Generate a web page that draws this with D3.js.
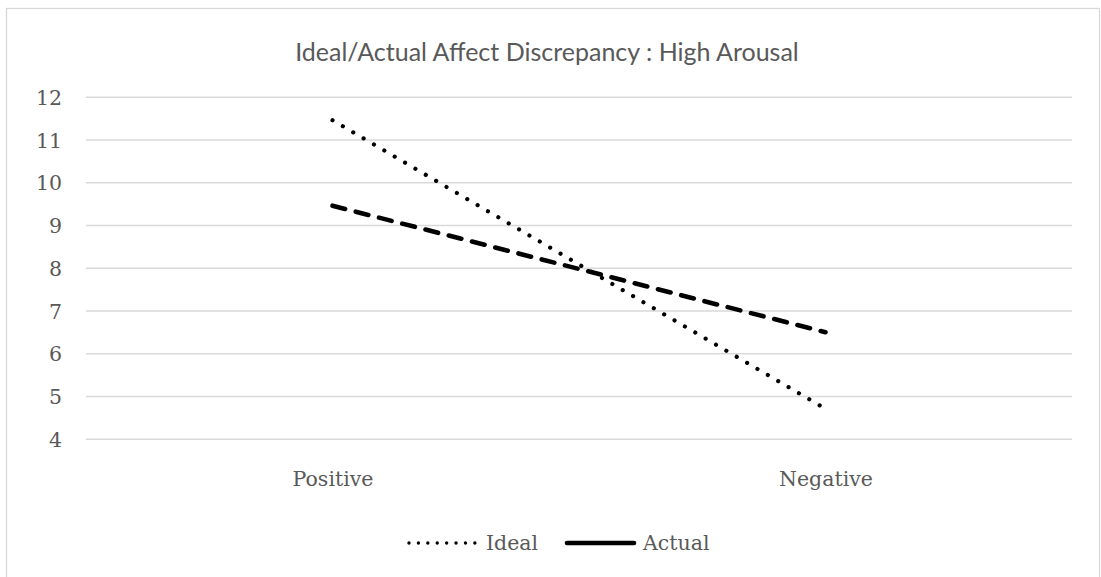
<!DOCTYPE html>
<html>
<head>
<meta charset="utf-8">
<script src="https://cdn.jsdelivr.net/npm/d3@7"></script>
<style>
  html, body { margin: 0; padding: 0; background: #fff; }
  svg { display: block; }
</style>
</head>
<body>
<svg id="chart" width="1101" height="577"></svg>
<script>
// Chart content
const chartTitle = "Ideal/Actual Affect Discrepancy : High Arousal";
const categories = ["Positive", "Negative"];
const idealValues = [11.45, 4.7];
const actualValues = [9.45, 6.49];
const seriesNames = ["Ideal", "Actual"];
const yTicks = [4, 5, 6, 7, 8, 9, 10, 11, 12];

const W = 1101, H = 577;
const plot = { left: 86, right: 1072, top: 96.7, bottom: 438.7 };
const textColor = "#595959";
const gridColor = "#d9d9d9";
const serif = "'DejaVu Serif', serif";
const sans = "Lato, 'Open Sans', sans-serif";
const labelSize = 20.5;

const svg = d3.select("#chart");

svg.append("rect").attr("width", W).attr("height", H).attr("fill", "#fff");
// chart frame
svg.append("rect")
  .attr("x", 6.5).attr("y", 8.5)
  .attr("width", 1093).attr("height", 600)
  .attr("fill", "none").attr("stroke", gridColor).attr("stroke-width", 1.3);

const x = d3.scalePoint().domain(categories).range([plot.left, plot.right]).padding(0.5);
const y = d3.scaleLinear().domain([4, 12]).range([plot.bottom, plot.top]);

// horizontal gridlines + value labels
const yAxis = d3.axisLeft(y).tickValues(yTicks).tickSize(-(plot.right - plot.left)).tickPadding(24);
const gy = svg.append("g").attr("transform", `translate(${plot.left},0)`).call(yAxis);
gy.select(".domain").remove();
gy.selectAll(".tick line").attr("stroke", gridColor).attr("stroke-width", 1.5);
gy.selectAll(".tick text")
  .attr("fill", textColor).attr("font-family", serif).attr("font-size", labelSize)
  .attr("dy", "0.38em");

// category labels
const xAxis = d3.axisBottom(x).tickSize(0).tickPadding(33);
const gx = svg.append("g").attr("transform", `translate(0,${plot.bottom})`).call(xAxis);
gx.select(".domain").remove();
gx.selectAll(".tick text")
  .attr("fill", textColor).attr("font-family", serif).attr("font-size", labelSize);

// title
svg.append("text")
  .attr("x", 547).attr("y", 61)
  .attr("text-anchor", "middle")
  .attr("fill", textColor).attr("font-family", sans).attr("font-size", 25)
  .text(chartTitle);

const line = d3.line().x((d, i) => x(categories[i])).y(d => y(d));

svg.append("path").datum(idealValues)
  .attr("d", line).attr("fill", "none").attr("stroke", "#000")
  .attr("stroke-width", 4.2).attr("stroke-dasharray", "0.01 12")
  .attr("stroke-linecap", "round");

svg.append("path").datum(actualValues)
  .attr("d", line).attr("fill", "none").attr("stroke", "#000")
  .attr("stroke-width", 4.6).attr("stroke-dasharray", "13 11")
  .attr("stroke-linecap", "round");

// legend
const legendY = 543;
const legend = svg.append("g");
legend.append("line")
  .attr("x1", 409).attr("x2", 475).attr("y1", legendY).attr("y2", legendY)
  .attr("stroke", "#000").attr("stroke-width", 3.4)
  .attr("stroke-dasharray", "0.01 9.4").attr("stroke-linecap", "round");
legend.append("text")
  .attr("x", 486).attr("y", legendY).attr("dy", "0.36em")
  .attr("fill", textColor).attr("font-family", serif).attr("font-size", labelSize)
  .text(seriesNames[0]);
legend.append("line")
  .attr("x1", 567).attr("x2", 634).attr("y1", legendY).attr("y2", legendY)
  .attr("stroke", "#000").attr("stroke-width", 4.6).attr("stroke-linecap", "round");
legend.append("text")
  .attr("x", 643).attr("y", legendY).attr("dy", "0.36em")
  .attr("fill", textColor).attr("font-family", serif).attr("font-size", labelSize)
  .text(seriesNames[1]);
</script>
</body>
</html>
